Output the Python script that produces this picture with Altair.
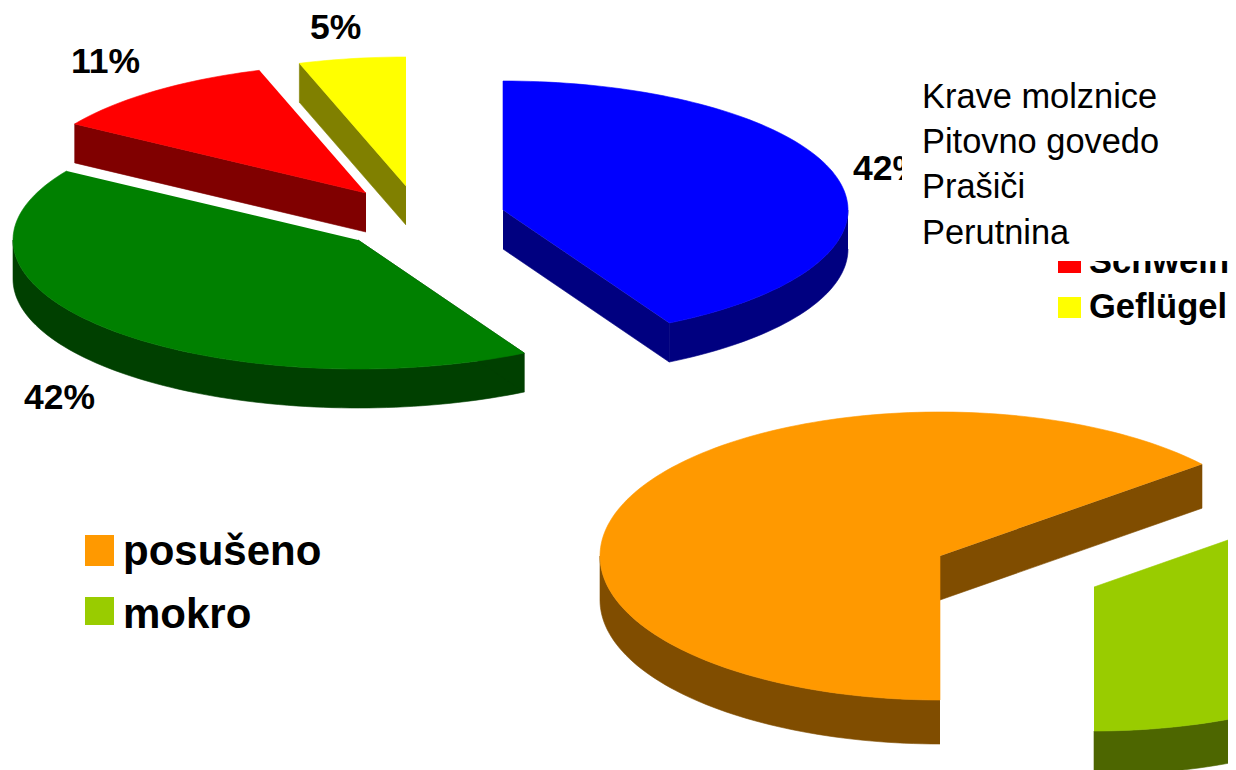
import numpy as np
import pandas as pd
import altair as alt

# --- values ---
pie1_names = ["Krave molznice", "Pitovno govedo", "Prašiči", "Perutnina"]
pie1_shares = [42, 42, 11, 5]
pie1_labels = ["42%", "42%", "11%", "5%"]
pie1_top = ["#0000FF", "#008000", "#FF0000", "#FFFF00"]
pie1_side = ["#000080", "#004000", "#800000", "#808000"]

pie2_names = ["posušeno", "mokro"]
pie2_shares = [64, 36]
pie2_top = ["#FF9900", "#99CC00"]
pie2_side = ["#804D00", "#4D6600"]

# --- projected-pie geometry (pixel layout of the page) ---
W, H = 1228, 770
P1 = dict(rx=345, ry=129, depth=39, start=0)
P1_apex = [(503, 210), (358, 240), (366, 193), (406, 186)]
P2 = dict(rx=340, ry=144, depth=44, start=180)
P2_apex = [(940, 556), (1094, 587)]

XS = alt.Scale(domain=[8, W], nice=False, zero=False)
YS = alt.Scale(domain=[H, 8], nice=False, zero=False)


def rim(apex, geo, t0, t1, dy=0):
    n = max(2, int(abs(t1 - t0) / 1.5) + 1)
    ts = np.radians(np.linspace(t0, t1, n))
    return [(apex[0] + geo["rx"] * np.sin(t), apex[1] - geo["ry"] * np.cos(t) + dy) for t in ts]


def poly(points, color):
    df = pd.DataFrame(points, columns=["x", "y"])
    df["i"] = range(len(df))
    df["c"] = color
    return (
        alt.Chart(df)
        .mark_line(clip=True, strokeWidth=0.6, interpolate="linear")
        .encode(
            x=alt.X("x:Q", scale=XS, axis=None),
            y=alt.Y("y:Q", scale=YS, axis=None),
            order="i:Q",
            fill=alt.Fill("c:N", scale=None),
            color=alt.Color("c:N", scale=None),
        )
    )


def spans(shares, start):
    out, t = [], start
    for s in shares:
        out.append((t, t + s * 3.6))
        t += s * 3.6
    return out


layers = []


def slice_layers(apex, geo, t0, t1, top, side, cut_edges):
    d = geo["depth"]
    # outer wall: only the part of the rim that faces the viewer
    a, b = max(t0, 90), min(t1, 270)
    if a < b:
        layers.append(poly(rim(apex, geo, a, b) + rim(apex, geo, b, a, d), side))
    # straight cut walls
    for t in cut_edges:
        p = rim(apex, geo, t, t)[0]
        layers.append(poly([apex, p, (p[0], p[1] + d), (apex[0], apex[1] + d)], side))
    layers.append(poly([apex] + rim(apex, geo, t0, t1), top))


s1 = spans(pie1_shares, P1["start"])
s2 = spans(pie2_shares[:1], P2["start"])
t_o0, t_o1 = s2[0]
s2.append((t_o1 - 360, t_o0))

# bottom row first: order as stacked in the picture
slice_layers(P2_apex[0], P2, s2[0][0], s2[0][1], pie2_top[0], pie2_side[0], [s2[0][1]])
slice_layers(P2_apex[1], P2, s2[1][0], s2[1][1], pie2_top[1], pie2_side[1], [])
slice_layers(P1_apex[1], P1, s1[1][0], s1[1][1], pie1_top[1], pie1_side[1], [s1[1][0]])
slice_layers(P1_apex[0], P1, s1[0][0], s1[0][1], pie1_top[0], pie1_side[0], [s1[0][1]])
slice_layers(P1_apex[2], P1, s1[2][0], s1[2][1], pie1_top[2], pie1_side[2], [s1[2][0]])
slice_layers(P1_apex[3], P1, s1[3][0], s1[3][1], pie1_top[3], pie1_side[3], [s1[3][0]])


def text_layer(df, size, bold=True):
    return (
        alt.Chart(df)
        .mark_text(
            font="Liberation Sans",
            fontSize=size,
            fontWeight="bold" if bold else "normal",
            align="left",
            baseline="alphabetic",
            color="#000000",
        )
        .encode(
            x=alt.X("x:Q", scale=XS, axis=None),
            y=alt.Y("y:Q", scale=YS, axis=None),
            text="t:N",
        )
    )


def rects(df):
    return (
        alt.Chart(df)
        .mark_rect()
        .encode(
            x=alt.X("x:Q", scale=XS, axis=None),
            x2="x2:Q",
            y=alt.Y("y:Q", scale=YS, axis=None),
            y2="y2:Q",
            fill=alt.Fill("c:N", scale=None),
        )
    )


# percentage labels of the upper pie
layers.append(text_layer(pd.DataFrame({
    "t": pie1_labels,
    "x": [853, 24, 71, 310],
    "y": [180, 409, 73, 39],
}), 35.5))

# old German legend, half hidden in the picture
layers.append(rects(pd.DataFrame({
    "x": [1058, 1058], "x2": [1081, 1081], "y": [250, 297], "y2": [273, 318],
    "c": [pie1_top[2], pie1_top[3]],
})))
layers.append(text_layer(pd.DataFrame({
    "t": ["Schwein", "Geflügel"], "x": [1089, 1089], "y": [273, 318],
}), 34.5))

# white patch with the Slovene legend on top
layers.append(rects(pd.DataFrame({
    "x": [902], "x2": [W], "y": [70], "y2": [261], "c": ["#FFFFFF"],
})))
layers.append(text_layer(pd.DataFrame({
    "t": pie1_names, "x": [922] * 4, "y": [108, 153, 198, 244],
}), 34.4, bold=False))

# lower legend
layers.append(rects(pd.DataFrame({
    "x": [85, 85], "x2": [114, 114], "y": [535, 597], "y2": [566, 625],
    "c": pie2_top,
})))
layers.append(text_layer(pd.DataFrame({
    "t": pie2_names, "x": [123, 123], "y": [565, 628],
}), 42))

chart = (
    alt.layer(*layers)
    .properties(width=W - 8, height=H - 8, padding=0,
                autosize=alt.AutoSizeParams(type="none"), background="#FFFFFF")
    .configure_view(stroke=None)
)

chart.save("out.html", embed_options={"renderer": "svg", "actions": False})
